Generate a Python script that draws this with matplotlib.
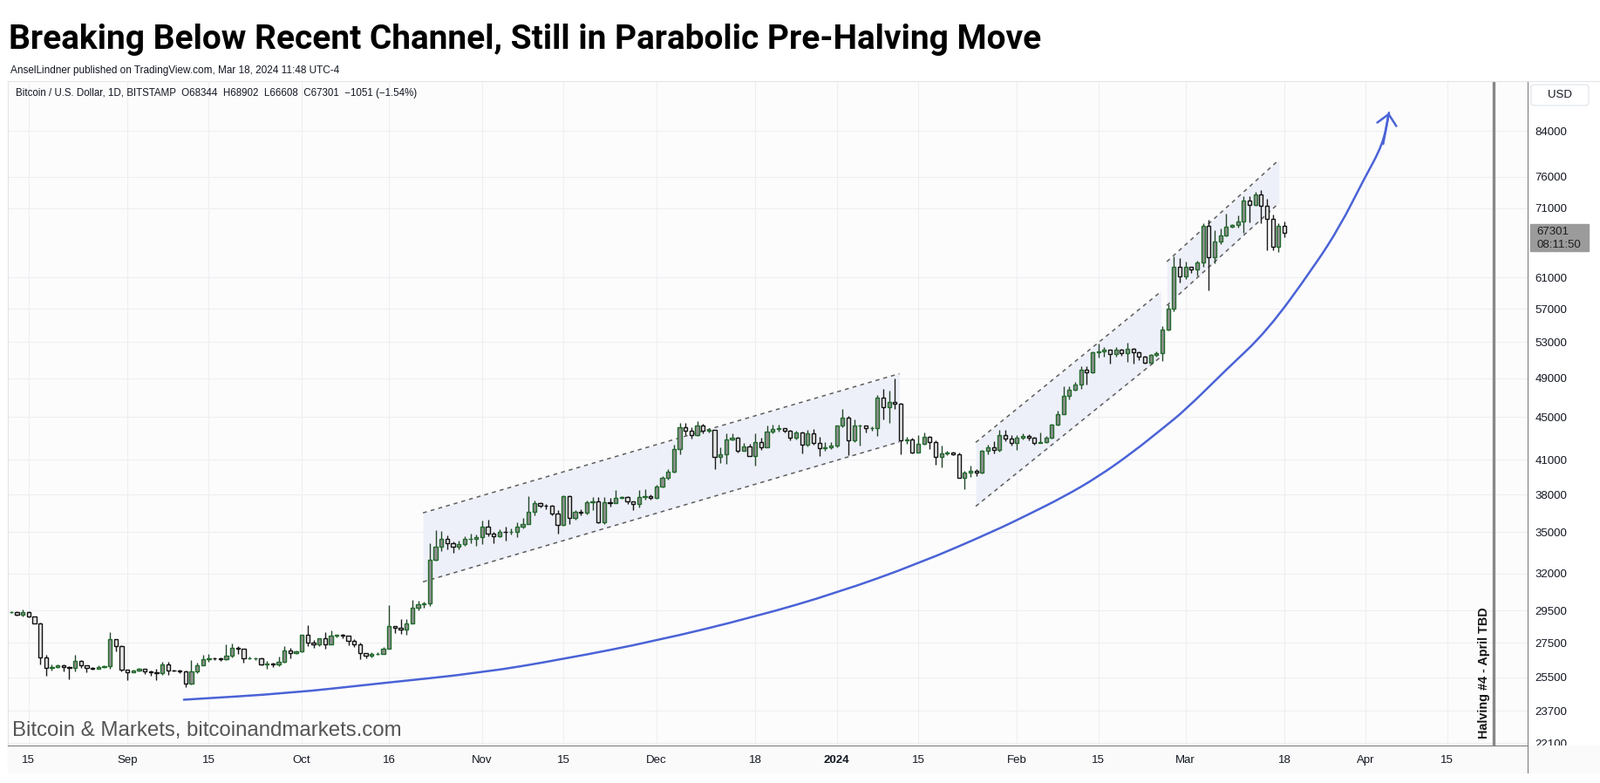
import numpy as np, pandas as pd
import matplotlib; matplotlib.use("Agg")
import matplotlib.pyplot as plt
import matplotlib.dates as mdates
from matplotlib.patches import Rectangle, FancyBboxPatch, PathPatch
from matplotlib.path import Path
from matplotlib.lines import Line2D
from matplotlib.ticker import NullLocator
from matplotlib.transforms import Bbox, TransformedBbox

plt.rcParams['font.family'] = ['Liberation Sans', 'DejaVu Sans']
TITLE_FONT = ['Roboto', 'Liberation Sans', 'DejaVu Sans']

# ---------- data: BTCUSD daily (Bitstamp) ----------
dates = pd.date_range("2023-08-12", "2024-03-18", freq="D")
first_open = 29410
close = [
    # Aug 12-31
    29430, 29250, 29400, 29100, 28700, 26640, 26050, 26100, 26190, 26100,
    26050, 26420, 26160, 26050, 26000, 26090, 26120, 27700, 27300, 25950,
    # Sep
    25800, 25870, 25970, 25820, 25780, 25750, 26240, 25900, 25890, 25830,
    25150, 25840, 26200, 26520, 26600, 26570, 26530, 26760, 27200, 27130,
    26570, 26580, 26580, 26250, 26300, 26220, 26370, 27020, 26910, 26970,
    # Oct
    27990, 27500, 27430, 27780, 27420, 27930, 27960, 27930, 27600, 27400,
    26870, 26750, 26860, 26860, 27150, 28500, 28400, 28330, 28700, 29700,
    29920, 29990, 32980, 33900, 34480, 34150, 33900, 34080, 34500, 34520, 34660,
    # Nov
    35420, 34900, 34720, 35050, 35030, 35050, 35400, 35650, 36610, 37300,
    37100, 37070, 36430, 35550, 37870, 36100, 36570, 36550, 37360, 37450,
    35750, 37400, 37300, 37700, 37800, 37450, 37250, 37830, 37860, 37720,
    # Dec
    38650, 39450, 39950, 41960, 44000, 43700, 43300, 44200, 43650, 43750,
    41250, 41500, 42850, 43000, 41830, 42200, 41300, 42600, 42150, 43600,
    43870, 43950, 43650, 43000, 43500, 42370, 43450, 42500, 42050, 42150, 42250,
    # Jan
    44150, 44900, 42800, 44150, 44150, 43900, 43900, 46950, 46000, 46550,
    46300, 42770, 42850, 41650, 42450, 43100, 42650, 41250, 41600, 41650,
    41500, 39450, 39850, 40050, 39850, 41800, 42100, 41900, 43250, 42900, 42550,
    # Feb
    43050, 43200, 43000, 42550, 42650, 43050, 44300, 45250, 47100, 47750,
    48300, 49900, 49650, 51800, 51900, 52100, 51600, 52120, 51750, 52250,
    51850, 51300, 50700, 51550, 51700, 54450, 57000, 62450, 61150,
    # Mar 1-18
    62400, 62050, 63100, 68300, 63800, 66050, 66900, 68200, 68400, 68900,
    72100, 71450, 73100, 71400, 69400, 65300, 68344, 67301,
]
high = [
    29480, 29460, 29600, 29450, 29150, 28750, 26810, 26250, 26250, 26250,
    26150, 26810, 26470, 26170, 26080, 26160, 26170, 28150, 27700, 27350,
    25950, 25920, 26050, 26000, 25900, 26000, 26400, 26380, 25950, 25960,
    25870, 26470, 26350, 26800, 26830, 26620, 26640, 27400, 27480, 27320,
    27130, 26700, 26620, 26650, 26420, 26330, 26680, 27300, 27200, 27020,
    28000, 28600, 27650, 27800, 28150, 28250, 28000, 28020, 27950, 27700,
    27500, 26900, 26950, 26950, 27270, 29850, 28500, 28970, 28970, 30200,
    30150, 30100, 34200, 35180, 35100, 34750, 34300, 34400, 34700, 34900, 34800,
    35900, 35950, 35000, 35250, 35400, 35300, 35800, 36100, 37900, 37500,
    37350, 37200, 37150, 36750, 37950, 37950, 36750, 36800, 37500, 37800,
    37800, 37800, 37700, 38400, 37900, 37850, 37450, 38400, 38450, 38000,
    38850, 39600, 40200, 42400, 44450, 44450, 44000, 44600, 44350, 43900,
    43750, 42100, 43400, 43450, 43100, 42550, 42450, 43450, 43050, 44200,
    44250, 44250, 43850, 43800, 43650, 43600, 43750, 43850, 43100, 42600, 42650,
    44200, 45800, 45100, 44750, 44300, 44200, 44100, 47200, 47850, 47700,
    48950, 46450, 43100, 43050, 43300, 43500, 43200, 42800, 42300, 41800,
    41700, 41650, 40050, 40500, 40200, 41850, 42400, 42700, 43800, 43800, 43300,
    43250, 43450, 43350, 43100, 43500, 43150, 44350, 45600, 48100, 48150,
    48600, 50300, 50300, 51900, 52800, 52450, 52150, 52400, 52250, 52900,
    52300, 51950, 51400, 51650, 51950, 54900, 57500, 63950, 63650,
    63200, 62400, 63250, 68650, 69200, 67600, 67950, 70100, 68600, 69900,
    72800, 72900, 73600, 73800, 72500, 70000, 68700, 68902,
]
low = [
    29350, 29200, 29110, 29050, 28700, 26250, 25600, 25900, 26050, 25840,
    25390, 25840, 26040, 25800, 25950, 25980, 26050, 26000, 27010, 25840,
    25350, 25780, 25820, 25700, 25600, 25350, 25650, 25650, 25830, 25760,
    24960, 25120, 25750, 26170, 26380, 26500, 26420, 26500, 26630, 26820,
    26350, 26530, 26500, 26170, 26000, 26100, 26150, 26330, 26590, 26850,
    26950, 27300, 27200, 27300, 27150, 27400, 27850, 27800, 27350, 27250,
    26550, 26600, 26650, 26800, 26860, 27150, 28100, 28050, 28000, 28680,
    29500, 29700, 29800, 32900, 33600, 33700, 33450, 33750, 34000, 34200, 34000,
    34100, 34700, 34150, 34600, 34400, 34850, 34600, 35300, 35600, 36300,
    36950, 36800, 36300, 34900, 35500, 35600, 36000, 36300, 36400, 36750,
    35700, 35650, 37000, 37300, 37650, 37250, 36700, 36950, 37600, 37550,
    37650, 38600, 39300, 39900, 41500, 43300, 42900, 43200, 43450, 43500,
    40200, 40700, 40650, 42750, 41650, 41800, 41300, 40500, 41850, 42100,
    43450, 43600, 43550, 42800, 42850, 41570, 42200, 42350, 41300, 41800, 42000,
    42150, 44000, 41450, 42600, 42300, 43500, 43650, 43200, 44800, 44400,
    45800, 41500, 42450, 41600, 41700, 42350, 42000, 40550, 40300, 41450,
    41400, 39450, 38470, 39500, 39550, 39800, 41500, 41600, 41750, 42700, 42300,
    41900, 42850, 42800, 42350, 42500, 42550, 42900, 44200, 45250, 46800,
    47650, 47850, 48350, 49500, 51200, 51350, 50600, 51350, 51450, 50800,
    50600, 50950, 50550, 50550, 51300, 50900, 54400, 56700, 60400,
    60800, 61600, 61300, 62400, 59300, 62900, 65650, 66700, 68000, 68000,
    67300, 68800, 71350, 68650, 64800, 64700, 64500, 66608,
]

# channels drawn on the chart: (start, end), (lower start, lower end), (upper start, upper end)
chan_x = [("2023-10-21 20:00", "2024-01-11 19:00"),
          ("2024-01-24 22:00", "2024-02-25 19:00"),
          ("2024-02-26 19:00", "2024-03-17 02:00")]
chan_lower = [(31410, 42630), (37040, 51330), (57400, 71780)]
chan_upper = [(36510, 49470), (42580, 59170), (63160, 78870)]

# hand-drawn parabolic arrow
curve_t = ["2023-09-10 17:00", "2023-09-29 02:00", "2023-10-14 02:00", "2023-11-01 00:00",
           "2023-11-15 00:00", "2023-12-01 00:00", "2023-12-18 00:00", "2024-01-01 00:00",
           "2024-01-15 00:00", "2024-01-28 00:00", "2024-02-03 00:00", "2024-02-09 00:00",
           "2024-02-15 00:00", "2024-02-21 00:00", "2024-02-26 00:00", "2024-03-01 00:00",
           "2024-03-08 00:00", "2024-03-15 00:00", "2024-03-23 00:00", "2024-03-27 14:00",
           "2024-03-31 14:00", "2024-04-04 00:00", "2024-04-05 00:00"]
curve_p = [24290, 24640, 25160, 25760, 26540, 27620, 29110, 30660, 32670,
           35070, 36390, 37800, 39510, 41700, 43870, 45710, 49900, 54250, 62350,
           68230, 75410, 81640, 87420]

halving_date = "2024-04-23"
yticks = [22100, 23700, 25500, 27500, 29500, 32000, 35000, 38000, 41000, 45000,
          49000, 53000, 57000, 61000, 71000, 76000, 84000]
xt_dates = ["2023-08-15", "2023-09-01", "2023-09-15", "2023-10-01", "2023-10-16",
            "2023-11-01", "2023-11-15", "2023-12-01", "2023-12-18", "2024-01-01",
            "2024-01-15", "2024-02-01", "2024-02-15", "2024-03-01", "2024-03-18",
            "2024-04-01", "2024-04-15"]
xt_labels = ["15", "Sep", "15", "Oct", "16", "Nov", "15", "Dec", "18", "2024",
             "15", "Feb", "15", "Mar", "18", "Apr", "15"]

assert len(close) == len(high) == len(low) == len(dates), (len(close), len(high), len(low))

def dnum(s):
    return mdates.date2num(pd.to_datetime(s, format="mixed"))

# ---------- figure ----------
W, H = 1835, 898
fig = plt.figure(figsize=(W / 100, H / 100), dpi=100)
fig.patch.set_facecolor("white")
def fx(px): return px / W
def fy(py): return 1 - py / H

ax = fig.add_axes([fx(9), fy(855), fx(1752) - fx(9), fy(93) - fy(855)])
ax.set_facecolor("#fcfcfd")
ax.set_yscale("log")

x = mdates.date2num(dates)
c = np.array(close, float); h = np.array(high, float); l = np.array(low, float)
o = np.r_[first_open, c[:-1]]
up = c >= o

ax.vlines(x[up], l[up], h[up], color="#24452a", lw=1.0, zorder=3)
ax.vlines(x[~up], l[~up], h[~up], color="#1a1a1a", lw=1.0, zorder=3)
bot = np.minimum(o, c); hgt = np.abs(c - o)
ax.bar(x[up], hgt[up], bottom=bot[up], width=0.62, color="#8e8e8e",
       edgecolor="#1f6b2a", lw=1.0, zorder=4)
ax.bar(x[~up], hgt[~up], bottom=bot[~up], width=0.62, color="#e6e6e6",
       edgecolor="#111111", lw=1.0, zorder=4)

for (t0, t1), (lo0, lo1), (up0, up1) in zip(chan_x, chan_lower, chan_upper):
    xx = dnum([t0, t1])
    ax.fill_between(xx, [lo0, lo1], [up0, up1], color="#eceff9", alpha=0.85, lw=0, zorder=1)
    ax.plot(xx, [lo0, lo1], color="#5f5f5f", lw=1.1, ls=(0, (3, 3)), zorder=2)
    ax.plot(xx, [up0, up1], color="#5f5f5f", lw=1.1, ls=(0, (3, 3)), zorder=2)

# smooth the hand-drawn curve with quadratic Bezier segments through the read points
cx = dnum(curve_t)
ly = np.log(curve_p)
verts = [(cx[0], ly[0]), ((cx[0] + cx[1]) / 2, (ly[0] + ly[1]) / 2)]
codes = [Path.MOVETO, Path.LINETO]
for i in range(1, len(cx) - 1):
    verts += [(cx[i], ly[i]), ((cx[i] + cx[i + 1]) / 2, (ly[i] + ly[i + 1]) / 2)]
    codes += [Path.CURVE3, Path.CURVE3]
verts.append((cx[-1], ly[-1])); codes.append(Path.LINETO)
verts = np.array(verts); verts[:, 1] = np.exp(verts[:, 1])
ax.add_patch(PathPatch(Path(verts, codes), fill=False, edgecolor="#4a63d6", lw=1.8,
                       zorder=5, capstyle="round", joinstyle="round"))
ax.annotate("", xy=(cx[-1], curve_p[-1]), xytext=(cx[-2], curve_p[-2]),
            arrowprops=dict(arrowstyle="->,head_length=0.85,head_width=0.8",
                            color="#4a63d6", lw=1.8, shrinkA=0, shrinkB=0,
                            mutation_scale=10), zorder=5)

hx = dnum(halving_date)
ax.axvline(hx, color="#888888", lw=2.4, zorder=2)
ax.text(hx - 1.65, 22300, "Halving #4 - April TBD", rotation=90, ha="center",
        va="bottom", fontsize=10.4, fontweight="bold", color="#131313")

x0 = dnum("2023-08-15")
ax.set_xlim(x0 - 3.57, x0 + 257.85)
ax.set_ylim(21980, 93650)

ax.set_xticks(dnum(xt_dates))
ax.set_xticklabels(xt_labels)
for t in ax.get_xticklabels():
    if t.get_text() == "2024":
        t.set_fontweight("bold")
ax.tick_params(axis="x", length=0, pad=8, labelsize=9.5, labelcolor="#131722")
ax.yaxis.tick_right()
ax.set_yticks(yticks)
ax.set_yticklabels([str(v) for v in yticks])
ax.yaxis.set_minor_locator(NullLocator())
ax.tick_params(axis="y", length=0, pad=6, labelsize=9.5, labelcolor="#131722")
ax.grid(True, color="#eeeff2", lw=0.8, zorder=0)
ax.set_axisbelow(True)
for s in ("left", "top"):
    ax.spines[s].set_color("#e3e5ea")
ax.spines["right"].set_color("#7d7d7d")
ax.spines["bottom"].set_color("#7d7d7d")

# clip the bottom price label like the original
clipbox = TransformedBbox(Bbox([[fx(1752), fy(855)], [1, 1]]), fig.transFigure)
for tk in ax.yaxis.get_major_ticks():
    tk.label2.set_clip_box(clipbox); tk.label2.set_clip_on(True)

ax.text(0.0052, 0.9816, "Bitcoin / U.S. Dollar, 1D, BITSTAMP  O68344  H68902  L66608  C67301  \u22121051 (\u22121.54%)",
        transform=ax.transAxes, fontsize=8.3, color="#131722", va="center")

# ---------- frame decorations ----------
fig.add_artist(Rectangle((fx(9), fy(886)), fx(1835) - fx(9), fy(855) - fy(886),
                         transform=fig.transFigure, color="#fafafa", zorder=0))
fig.add_artist(Line2D([fx(1752), fx(1752)], [fy(886), fy(855)], transform=fig.transFigure,
                      color="#7d7d7d", lw=0.8))
fig.add_artist(Line2D([fx(1752), fx(1835)], [fy(93), fy(93)], transform=fig.transFigure,
                      color="#e3e5ea", lw=0.8))
fig.add_artist(FancyBboxPatch((fx(1756), fy(121)), fx(66), fy(0) - fy(24),
                              boxstyle="round,pad=0,rounding_size=0.003",
                              transform=fig.transFigure, facecolor="white",
                              edgecolor="#e0e3eb", lw=0.8))
fig.text(fx(1775), fy(109), "USD", fontsize=9.5, color="#131722", va="center")
fig.add_artist(Rectangle((fx(1755), fy(288)), fx(67), fy(0) - fy(31),
                         transform=fig.transFigure, color="#9b9b9b"))
fig.text(fx(1762), fy(266), "67301", fontsize=9.5, color="#1e1e1e", va="center")
fig.text(fx(1762), fy(281), "08:11:50", fontsize=9.5, color="#1e1e1e", va="center")

fig.text(fx(10), fy(45), "Breaking Below Recent Channel, Still in Parabolic Pre-Halving Move",
         fontsize=28, fontweight="bold", family=TITLE_FONT, color="black", va="center")
fig.text(fx(12), fy(81), "AnselLindner published on TradingView.com, Mar 18, 2024 11:48 UTC-4",
         fontsize=8.5, color="#131722", va="center")
fig.text(fx(14), fy(838), "Bitcoin & Markets, bitcoinandmarkets.com",
         fontsize=17.3, color="#555555", va="center")

fig.savefig("out.png", dpi=100)
